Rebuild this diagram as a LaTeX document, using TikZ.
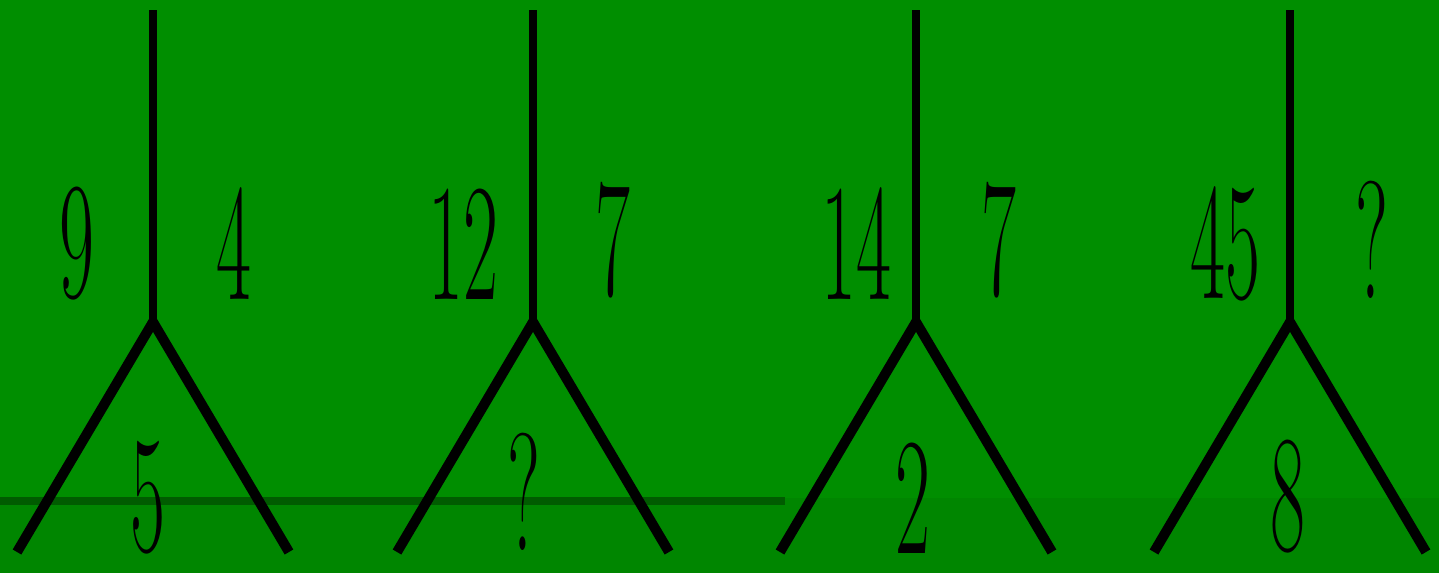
\documentclass[tikz,border=0pt]{standalone}
\usepackage{graphicx}
\definecolor{bgtop}{RGB}{0,142,0}
\definecolor{bgbottom}{RGB}{0,134,0}
\definecolor{bgline}{RGB}{0,92,0}
\newcommand\tallnum[1]{\scalebox{1}[2.2]{\fontsize{76}{76}\selectfont #1}}
\tikzset{
  stem/.style={line width=8pt, black, line cap=butt},
  branch/.style={line width=10pt, black, line cap=butt, line join=miter},
  lab/.style={inner sep=0pt, text=black, anchor=center}
}
\begin{document}
\begin{tikzpicture}[x=1pt,y=-1pt]
\useasboundingbox (0,0) rectangle (1439,573);
\fill[bgtop] (0,0) rectangle (1439,573);
\fill[bgbottom] (0,498) rectangle (1439,573);
\fill[bgline] (0,497) rectangle (785,505);
% Y shapes
\foreach \i/\x in {1/153,2/533,3/916,4/1290}{
  \coordinate (t\i) at (\x,10);
  \coordinate (j\i) at (\x,322);
  \coordinate (l\i) at (\x-136,552);
  \coordinate (r\i) at (\x+136,552);
  \draw[branch] (l\i) -- (j\i) -- (r\i);
  \draw[stem] (t\i) -- (j\i);
}
% labels
\node[lab] (a1) at (77,244) {\tallnum{9}};
\node[lab] (b1) at (234,244) {\tallnum{4}};
\node[lab] (c1) at (148,498) {\tallnum{5}};
\node[lab] (a2) at (463,244) {\tallnum{12}};
\node[lab] (b2) at (613,240) {\tallnum{7}};
\node[lab] (c2) at (524,492) {\tallnum{?}};
\node[lab] (a3) at (856,244) {\tallnum{14}};
\node[lab] (b3) at (999,240) {\tallnum{7}};
\node[lab] (c3) at (913,498) {\tallnum{2}};
\node[lab] (a4) at (1225,244) {\tallnum{45}};
\node[lab] (b4) at (1372,240) {\tallnum{?}};
\node[lab] (c4) at (1288,497) {\tallnum{8}};
\end{tikzpicture}
\end{document}
